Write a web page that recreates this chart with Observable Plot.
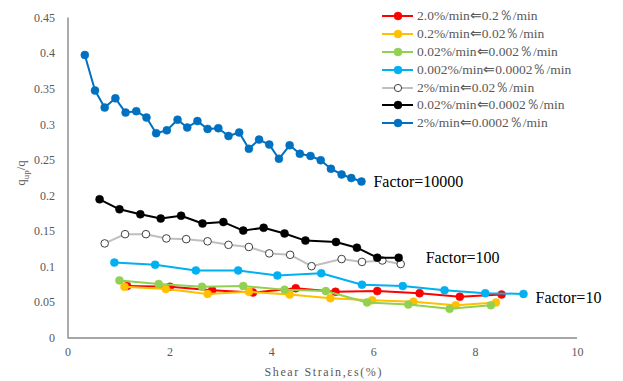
<!DOCTYPE html>
<html>
<head>
<meta charset="utf-8">
<script src="https://cdn.jsdelivr.net/npm/d3@7"></script>
<script src="https://cdn.jsdelivr.net/npm/@observablehq/plot@0.6"></script>
<style>
  html, body { margin: 0; padding: 0; background: #fff; }
  #wrap { position: relative; width: 623px; height: 381px; overflow: hidden; }
  #wrap svg text { font-family: "Liberation Serif", "Times New Roman", serif !important; }
  #legend { position: absolute; left: 382px; top: 7px; font-family: "Liberation Serif", "Times New Roman", serif !important; font-size: 13.5px; color: #595959; }
  .row { display: flex; align-items: center; height: 17.9px; white-space: nowrap; }
  .row svg { margin-right: 3px; }
  #ytitle { position: absolute; left: 22px; top: 173px; transform: translate(-50%, -50%) rotate(-90deg); font-family: "Liberation Serif", "Times New Roman", serif; font-size: 13px; color: #595959; white-space: nowrap; }
  #ytitle sub { font-size: 9px; }
</style>
</head>
<body>
<div id="wrap"></div>
<script>
// ---- data ----
const seriesNames = [
  "2.0%/min⇐0.2％/min",
  "0.2%/min⇐0.02％/min",
  "0.02%/min⇐0.002％/min",
  "0.002%/min⇐0.0002％/min",
  "2%/min⇐0.02％/min",
  "0.02%/min⇐0.0002％/min",
  "2%/min⇐0.0002％/min"
];
const xRed = [1.16, 2.0, 2.83, 3.63, 4.47, 5.25, 6.07, 6.90, 7.69, 8.51];
const yRed = [0.073, 0.072, 0.067, 0.064, 0.070, 0.065, 0.066, 0.063, 0.058, 0.061];
const xYellow = [1.11, 1.92, 2.74, 3.55, 4.35, 5.15, 5.97, 6.78, 7.61, 8.40];
const yYellow = [0.072, 0.069, 0.062, 0.065, 0.061, 0.056, 0.053, 0.051, 0.046, 0.050];
const xGreen = [1.01, 1.78, 2.63, 3.44, 4.25, 5.06, 5.87, 6.68, 7.49, 8.30];
const yGreen = [0.081, 0.076, 0.072, 0.073, 0.068, 0.066, 0.050, 0.047, 0.041, 0.046];
const xLightBlue = [0.91, 1.71, 2.51, 3.34, 4.11, 4.97, 5.77, 6.57, 7.39, 8.19, 8.94];
const yLightBlue = [0.106, 0.103, 0.095, 0.095, 0.088, 0.091, 0.075, 0.073, 0.067, 0.063, 0.062];
const xGray = [0.72, 1.12, 1.53, 1.93, 2.32, 2.74, 3.15, 3.55, 3.95, 4.36, 4.78, 5.37, 5.77, 6.17, 6.53];
const yGray = [0.133, 0.146, 0.146, 0.140, 0.139, 0.136, 0.131, 0.128, 0.119, 0.117, 0.101, 0.111, 0.107, 0.109, 0.104];
const xBlack = [0.62, 1.01, 1.42, 1.82, 2.22, 2.64, 3.05, 3.44, 3.84, 4.25, 4.66, 5.26, 5.67, 6.07, 6.49];
const yBlack = [0.195, 0.181, 0.174, 0.168, 0.172, 0.161, 0.163, 0.151, 0.155, 0.147, 0.137, 0.135, 0.127, 0.113, 0.113];
const xBlue = [0.33, 0.53, 0.72, 0.93, 1.13, 1.34, 1.54, 1.73, 1.94, 2.15, 2.34, 2.54, 2.74, 2.95, 3.15, 3.36, 3.55, 3.75, 3.95, 4.14, 4.35, 4.55, 4.76, 4.96, 5.16, 5.37, 5.56, 5.76];
const yBlue = [0.398, 0.348, 0.324, 0.337, 0.317, 0.319, 0.310, 0.288, 0.292, 0.307, 0.296, 0.305, 0.294, 0.295, 0.284, 0.289, 0.266, 0.279, 0.272, 0.252, 0.271, 0.259, 0.256, 0.250, 0.238, 0.230, 0.225, 0.220];
const xTicks = [0, 2, 4, 6, 8, 10];
const yTicks = [0, 0.05, 0.1, 0.15, 0.2, 0.25, 0.3, 0.35, 0.4, 0.45];
const yTickLabels = ["0", "0.05", "0.1", "0.15", "0.2", "0.25", "0.3", "0.35", "0.4", "0.45"];
const factorLabels = ["Factor=10000", "Factor=100", "Factor=10"];
const xTitle = "Shear Strain,εs(%)";

// ---- styles ----
const styles = [
  {stroke: "#FF0000", fill: "#FF0000", dotStroke: "#FF0000"},
  {stroke: "#FFC000", fill: "#FFC000", dotStroke: "#FFC000"},
  {stroke: "#92D050", fill: "#92D050", dotStroke: "#92D050"},
  {stroke: "#00B0F0", fill: "#00B0F0", dotStroke: "#00B0F0"},
  {stroke: "#BFBFBF", fill: "#FFFFFF", dotStroke: "#404040"},
  {stroke: "#000000", fill: "#000000", dotStroke: "#000000"},
  {stroke: "#0070C0", fill: "#0070C0", dotStroke: "#0070C0"}
];
const xs = [xRed, xYellow, xGreen, xLightBlue, xGray, xBlack, xBlue];
const ys = [yRed, yYellow, yGreen, yLightBlue, yGray, yBlack, yBlue];
const series = xs.map((xa, i) => xa.map((x, j) => ({x, y: ys[i][j]})));

const serif = "Liberation Serif";
const marks = [];
series.forEach((data, i) => {
  const s = styles[i];
  marks.push(Plot.line(data, {x: "x", y: "y", stroke: s.stroke, strokeWidth: 2}));
  marks.push(Plot.dot(data, {x: "x", y: "y", r: i === 4 ? 3.8 : 4, fill: s.fill, stroke: s.dotStroke, strokeWidth: i === 4 ? 1 : 0.5}));
});

// factor labels anchored to the last point of their series
const factorData = [
  {label: factorLabels[0], x: xBlue[xBlue.length - 1], y: yBlue[yBlue.length - 1], dx: 12, dy: 0},
  {label: factorLabels[1], x: xBlack[xBlack.length - 1], y: yBlack[yBlack.length - 1], dx: 27, dy: 0},
  {label: factorLabels[2], x: xLightBlue[xLightBlue.length - 1], y: yLightBlue[yLightBlue.length - 1], dx: 12, dy: 4}
];
factorData.forEach(d => {
  marks.push(Plot.text([d], {x: "x", y: "y", text: "label", dx: d.dx, dy: d.dy, textAnchor: "start", fontSize: 16, fill: "#000", fontFamily: serif}));
});

marks.push(Plot.ruleX([0], {stroke: "#888", strokeWidth: 1.4}));
marks.push(Plot.ruleY([0], {stroke: "#888", strokeWidth: 1.4}));
marks.push(Plot.axisX({ticks: xTicks, tickSize: 0, tickPadding: 9, fontSize: 12, fontFamily: serif, color: "#595959", label: xTitle, labelAnchor: "center", labelArrow: "none", labelOffset: 38}));
marks.push(Plot.axisY({ticks: yTicks, tickFormat: (d, i) => yTickLabels[i], tickSize: 0, tickPadding: 13, fontSize: 12, fontFamily: serif, color: "#595959", label: null}));

const chart = Plot.plot({
  width: 623,
  height: 381,
  marginLeft: 67.5,
  marginRight: 46,
  marginTop: 17.5,
  marginBottom: 43.5,
  x: {domain: [0, 10]},
  y: {domain: [0, 0.45]},
  style: {fontFamily: serif, background: "#fff"},
  marks
});

// widen the axis title like the reference
d3.select(chart).selectAll("text").filter(function() { return this.textContent === xTitle; })
  .style("letter-spacing", "1.6px").attr("dx", 1);

const wrap = document.getElementById("wrap");
wrap.appendChild(chart);

// legend
const legend = document.createElement("div");
legend.id = "legend";
seriesNames.forEach((name, i) => {
  const s = styles[i];
  const row = document.createElement("div");
  row.className = "row";
  row.innerHTML = `<svg width="32" height="12"><line x1="0" x2="31" y1="6" y2="6" stroke="${s.stroke}" stroke-width="2"/><circle cx="16" cy="6" r="${i === 4 ? 3.6 : 4}" fill="${s.fill}" stroke="${s.dotStroke}" stroke-width="${i === 4 ? 1 : 0.5}"/></svg><span></span>`;
  row.querySelector("span").textContent = name;
  legend.appendChild(row);
});
wrap.appendChild(legend);

const yt = document.createElement("div");
yt.id = "ytitle";
yt.innerHTML = "q<sub>up</sub>/q";
wrap.appendChild(yt);
</script>
</body>
</html>
